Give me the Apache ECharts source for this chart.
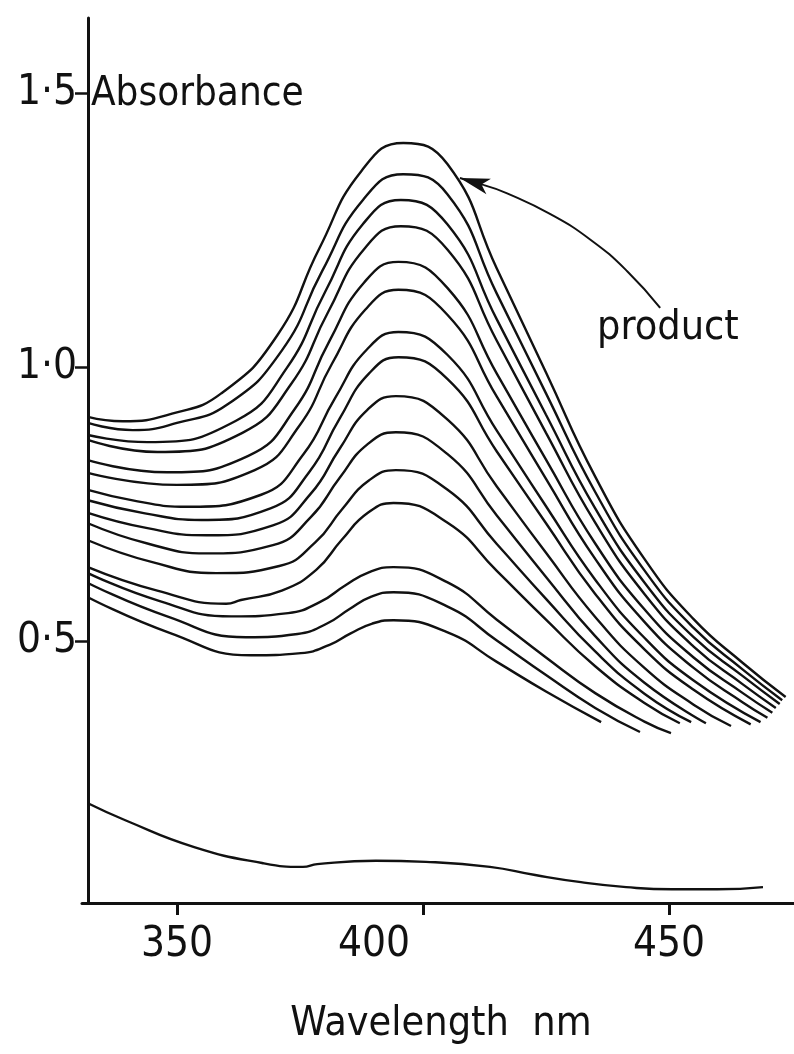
<!DOCTYPE html>
<html>
<head>
<meta charset="utf-8">
<title>Absorbance spectra</title>
<script src="https://cdn.jsdelivr.net/npm/echarts@6.0.0/dist/echarts.min.js"></script>
<style>
html,body{margin:0;padding:0;background:#fff;}
#main{width:794px;height:1054px;}
</style>
</head>
<body>
<div id="main"></div>
<script>
// tick positions
var xTicks = [350, 400, 450];
var yTicks = [0.5, 1.0, 1.5];

// spectra, top (most product) to bottom, as [wavelength nm, absorbance]
var scan01 = [[331.9,0.909],[339,0.901],[349,0.915],[359,0.952],[370.4,1.058],[378.9,1.216],[387.5,1.358],[396,1.409],[405,1.370],[415,1.180],[425,0.990],[435,0.800],[445,0.650],[455,0.540],[465,0.460],[473.7,0.398]];
var scan02 = [[331.9,0.898],[341,0.885],[350,0.898],[360.3,0.932],[371.3,1.030],[379.5,1.175],[387.8,1.305],[396,1.352],[405,1.315],[415,1.134],[425,0.952],[435,0.772],[445,0.629],[455,0.524],[465,0.448],[473,0.392]];
var scan03 = [[331.9,0.876],[344,0.863],[362,0.902],[372.3,0.998],[380.1,1.137],[387.8,1.261],[395.5,1.305],[405,1.260],[415,1.087],[425,0.913],[435,0.742],[445,0.607],[455,0.507],[465,0.436],[472.5,0.385]];
var scan04 = [[331.9,0.867],[346,0.845],[363.3,0.880],[373.2,0.969],[380.7,1.100],[388.1,1.216],[395.5,1.257],[405,1.214],[415,1.048],[425,0.880],[435,0.716],[445,0.586],[455,0.490],[465,0.421],[471.7,0.378]];
var scan05 = [[331.9,0.830],[348,0.808],[364.5,0.838],[373.9,0.923],[380.9,1.046],[388,1.154],[395,1.192],[405,1.144],[415,0.988],[425,0.831],[435,0.678],[445,0.558],[455,0.470],[465,0.405],[471,0.369]];
var scan06 = [[331.9,0.807],[350,0.785],[365.8,0.812],[374.8,0.892],[381.5,1.006],[388.3,1.105],[395,1.141],[405,1.095],[415,0.946],[425,0.796],[435,0.650],[445,0.535],[455,0.451],[465,0.388],[470,0.360]];
var scan07 = [[331.9,0.776],[342,0.755],[352,0.745],[367.1,0.767],[375.7,0.841],[382.1,0.943],[388.6,1.032],[395,1.064],[405,1.022],[415,0.884],[425,0.746],[435,0.612],[445,0.506],[455,0.428],[468.6,0.352]];
var scan08 = [[331.9,0.757],[343.5,0.733],[355,0.721],[369,0.742],[377,0.810],[383,0.905],[389,0.988],[395,1.018],[405,0.978],[415,0.846],[425,0.715],[435,0.586],[445,0.485],[455,0.411],[466.6,0.348]];
var scan09 = [[331.9,0.734],[344,0.706],[356,0.693],[369.5,0.711],[377.2,0.769],[383,0.850],[388.7,0.922],[394.5,0.947],[405,0.904],[415,0.782],[425,0.661],[435,0.544],[445,0.451],[455,0.384],[462.6,0.345]];
var scan10 = [[331.9,0.715],[344,0.678],[356,0.660],[369.5,0.675],[377.2,0.726],[383,0.797],[388.7,0.859],[394.5,0.881],[405,0.841],[415,0.729],[425,0.617],[435,0.509],[445,0.424],[457.5,0.350]];
var scan11 = [[331.9,0.684],[345,0.644],[358,0.624],[370.8,0.637],[378.1,0.680],[383.6,0.741],[389,0.793],[394.5,0.812],[405,0.776],[415,0.677],[425,0.577],[435,0.481],[445,0.404],[454.5,0.352]];
var scan12 = [[331.9,0.635],[346,0.592],[360,0.568],[363,0.575],[371.3,0.592],[378.3,0.630],[383.5,0.685],[388.8,0.734],[394,0.752],[405,0.716],[415,0.628],[425,0.539],[435,0.454],[445,0.387],[452.2,0.350]];
var scan13 = [[331.9,0.624],[346.5,0.573],[361,0.545],[372.6,0.551],[379.2,0.572],[384.1,0.601],[389.1,0.626],[394,0.635],[405,0.607],[415,0.539],[425,0.470],[435,0.405],[445,0.353],[450.4,0.332]];
var scan14 = [[331.9,0.606],[348,0.545],[364,0.507],[374.5,0.513],[380.5,0.532],[385,0.558],[389.5,0.581],[394,0.589],[405,0.563],[415,0.501],[425,0.438],[435,0.378],[444.1,0.334]];
var scan15 = [[331.9,0.580],[348.5,0.515],[365,0.474],[375.2,0.478],[381,0.493],[385.3,0.514],[389.7,0.532],[394,0.538],[405,0.516],[415,0.462],[425,0.408],[436.2,0.352]];
// lowest trace
var blank = [[331.9,0.204],[339.5,0.173],[353.5,0.124],[367.3,0.095],[375.6,0.088],[378.5,0.093],[390.4,0.099],[400.6,0.097],[413.6,0.088],[422.8,0.073],[432.1,0.060],[441.3,0.051],[450.6,0.047],[459.8,0.047],[469.1,0.051]];

// "product" arrow: curved shaft from the label up to the top spectrum
var arrowShaft = [[448.2,1.108],[441.5,1.175],[434.1,1.232],[425.9,1.279],[417.1,1.317],[412.4,1.332]];
var arrowHead = [[412.4,1.332],[407.5,1.345]];

var FONT = "'Liberation Sans Narrow', 'DejaVu Sans Condensed', 'Liberation Sans', sans-serif";
var INK = '#111';

var scans = [scan01, scan02, scan03, scan04, scan05, scan06, scan07, scan08,
             scan09, scan10, scan11, scan12, scan13, scan14, scan15, blank];

var chartDom = document.getElementById('main');
var myChart = echarts.init(chartDom);
var option;

var series = scans.map(function (d, i) {
    return {
        name: 'scan' + (i + 1),
        type: 'line',
        data: d,
        showSymbol: false,
        smooth: 0.5,
        silent: true,
        lineStyle: { color: INK, width: 2.4 }
    };
});

// arrow shaft with the head as a one-segment markLine
series.push({
    name: 'arrow',
    type: 'line',
    data: arrowShaft,
    showSymbol: false,
    smooth: 0.5,
    silent: true,
    lineStyle: { color: INK, width: 2 },
    markLine: {
        silent: true,
        symbol: ['none', 'arrow'],
        symbolSize: [12, 30],
        label: { show: false },
        lineStyle: { color: INK, width: 2, type: 'solid' },
        data: [[{ coord: arrowHead[0] }, { coord: arrowHead[1] }]]
    }
});

option = {
    animation: false,
    backgroundColor: '#fff',
    // x axis runs a few px left of the y axis, as in the original
    grid: { left: 82, right: 0, top: 18, bottom: 151 },
    xAxis: {
        type: 'value',
        min: 330.7,
        max: 475.4,
        name: 'Wavelength  nm',
        nameLocation: 'middle',
        nameGap: 101,
        nameTextStyle: { fontFamily: FONT, fontSize: 41, color: INK, padding: [0, 0, 0, 6] },
        axisLine: { show: true, onZero: false, lineStyle: { color: INK, width: 3 } },
        axisTick: { show: true, customValues: xTicks, length: 12, lineStyle: { color: INK, width: 3 } },
        axisLabel: {
            customValues: xTicks,
            margin: 21,
            color: INK,
            fontFamily: FONT,
            fontSize: 42,
            formatter: function (v) {
                // the 400 label sits left of its tick in the original
                return v === 400 ? '{off|400}' : '{n|' + v + '}';
            },
            rich: {
                n: { fontFamily: FONT, fontSize: 42, color: INK },
                off: { fontFamily: FONT, fontSize: 42, color: INK, padding: [0, 98, 0, 0] }
            }
        },
        splitLine: { show: false }
    },
    yAxis: {
        type: 'value',
        min: 0.022,
        max: 1.637,
        offset: -6,
        name: 'Absorbance',
        nameLocation: 'end',
        nameGap: -77,
        nameTextStyle: { fontFamily: FONT, fontSize: 40, color: INK, align: 'left', verticalAlign: 'middle', padding: [0, 0, 0, 3] },
        axisLine: { show: true, onZero: false, lineStyle: { color: INK, width: 3 } },
        axisTick: { show: true, customValues: yTicks, length: 13, lineStyle: { color: INK, width: 2.5 } },
        axisLabel: {
            customValues: yTicks,
            margin: 11,
            color: INK,
            fontFamily: FONT,
            fontSize: 42,
            formatter: function (v) {
                return v.toFixed(1).replace('.', '·');
            }
        },
        splitLine: { show: false }
    },
    graphic: [{
        type: 'text',
        left: 597,
        top: 308,
        style: { text: 'product', fontFamily: FONT, fontSize: 41, fill: INK }
    }],
    series: series
};

option && myChart.setOption(option);
</script>
</body>
</html>
